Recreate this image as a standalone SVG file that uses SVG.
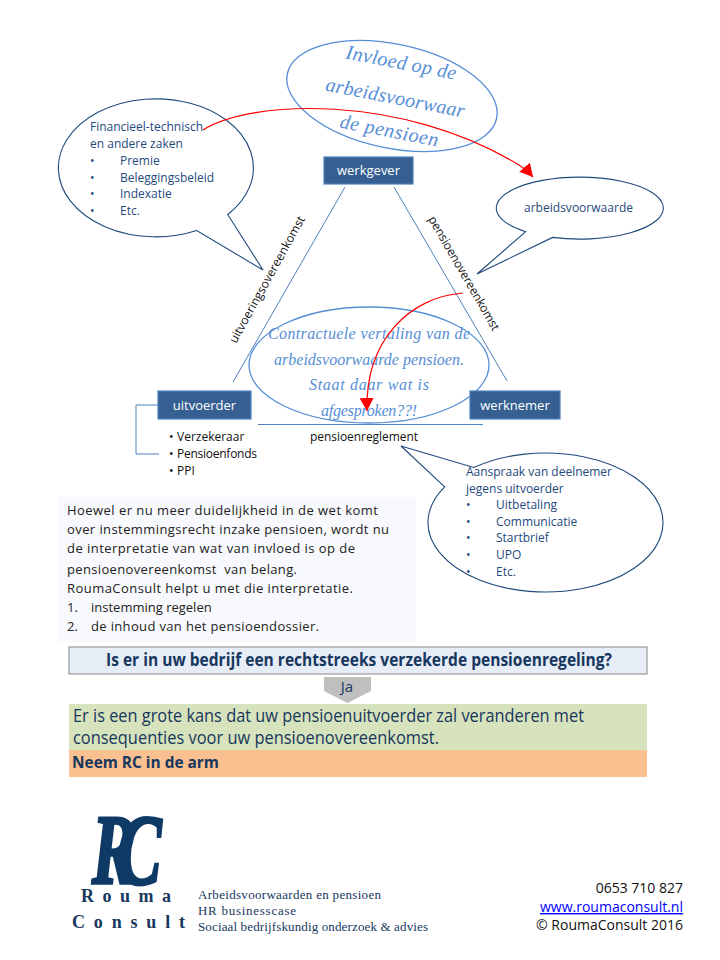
<svg xmlns="http://www.w3.org/2000/svg" width="720" height="960" viewBox="0 0 720 960">
<defs>
<marker id="redhead" markerUnits="userSpaceOnUse" markerWidth="15" markerHeight="15" refX="13" refY="7" orient="auto"><path d="M0 0L13 7L0 14Z" fill="#ff0000"/></marker>
</defs>
<style>
.sans{font-family:"Open Sans","Noto Sans","Liberation Sans",sans-serif}
.call{font-size:12px;fill:#1f497d}
.bubble{fill:#fff;stroke:#1f497d;stroke-width:1.1}
.oval{fill:none;stroke:#558ed5;stroke-width:1.3}
.hand{font-family:"Liberation Serif",serif;font-style:italic;fill:#558ed5;text-anchor:middle}
.box{fill:#366092;stroke:#4f81bd;stroke-width:1.2}
.boxt{font-size:13px;fill:#fff;text-anchor:middle}
.ln{fill:none;stroke:#4f81bd;stroke-width:1}
.red{fill:none;stroke:#ff0000;stroke-width:1.2}
.blk{font-size:12px;fill:#111}
.body{font-size:13px;fill:#222}
.foot{font-family:"Liberation Serif",serif;font-size:13px;fill:#17375e}
.con{font-size:14px;fill:#111;text-anchor:end}
</style>
<rect width="720" height="960" fill="#fff"/>

<g id="connectors">
<path class="ln" d="M345 187L233 382"/>
<path class="ln" d="M394 187L507 381"/>
<path class="ln" d="M258 424.5H483" stroke-width="1.3"/>
<path class="ln" d="M158 405H136V454H159"/>
</g>

<g id="callout-financieel">
<path class="bubble" d="M227.700 214.500A97.500 69 0 1 0 196.700 230.500L263 270Z"/>
<g class="sans call">
<text x="90" y="131" textLength="113">Financieel-technisch</text>
<text x="90" y="148">en andere zaken</text>
<text x="90" y="165">•</text><text x="120" y="165">Premie</text>
<text x="90" y="182">•</text><text x="120" y="182">Beleggingsbeleid</text>
<text x="90" y="198">•</text><text x="120" y="198">Indexatie</text>
<text x="90" y="215">•</text><text x="120" y="215">Etc.</text>
</g>
</g>

<g id="callout-arbeidsvoorwaarde">
<path class="bubble" d="M525.700 231.700L477 274L552.600 237.400A83.500 31 0 1 0 525.700 231.700Z"/>
<text class="sans call" x="524" y="212" textLength="109">arbeidsvoorwaarde</text>
</g>

<g id="callout-aanspraak">
<path class="bubble" d="M444.700 486.800L401 446L473.700 467.500A117.500 69.500 0 1 1 444.700 486.800Z"/>
<g class="sans call">
<text x="466" y="476" textLength="146">Aanspraak van deelnemer</text>
<text x="466" y="493">jegens uitvoerder</text>
<text x="466" y="509">•</text><text x="496" y="509">Uitbetaling</text>
<text x="466" y="526">•</text><text x="496" y="526">Communicatie</text>
<text x="466" y="542">•</text><text x="496" y="542">Startbrief</text>
<text x="466" y="559">•</text><text x="496" y="559">UPO</text>
<text x="466" y="576">•</text><text x="496" y="576">Etc.</text>
</g>
</g>

<g id="oval-invloed">
<ellipse class="oval" cx="392" cy="96" rx="107" ry="52" transform="rotate(12 392 96)"/>
<g class="hand" font-size="20">
<text transform="translate(400 69) rotate(11)" textLength="112">Invloed op de</text>
<text transform="translate(394 104) rotate(11)" textLength="141">arbeidsvoorwaar</text>
<text transform="translate(388 137) rotate(11)" textLength="100">de pensioen</text>
</g>
</g>

<g id="oval-vertaling">
<ellipse class="oval" cx="369" cy="365" rx="120" ry="58"/>
<g class="hand" font-size="16">
<text x="369" y="339" textLength="202">Contractuele vertaling van de</text>
<text x="369" y="365" textLength="190">arbeidsvoorwaarde pensioen.</text>
<text x="369" y="390" textLength="120">Staat daar wat is</text>
<text x="369" y="416" textLength="96">afgesproken??!</text>
</g>
</g>

<g id="node-werkgever">
<rect class="box" x="324" y="157" width="89" height="27"/>
<text class="sans boxt" x="368.500" y="175">werkgever</text>
</g>
<g id="node-uitvoerder">
<rect class="box" x="158" y="391" width="93" height="28"/>
<text class="sans boxt" x="204.500" y="410">uitvoerder</text>
</g>
<g id="node-werknemer">
<rect class="box" x="470" y="391" width="90" height="28"/>
<text class="sans boxt" x="515" y="410">werknemer</text>
</g>

<g id="labels">
<text class="sans blk" transform="translate(236 344) rotate(-61)" textLength="143">uitvoeringsovereenkomst</text>
<text class="sans blk" transform="translate(428 219) rotate(60)" textLength="130">pensioenovereenkomst</text>
<text class="sans blk" x="310" y="441" textLength="108">pensioenreglement</text>
<text class="sans blk" x="169" y="441">•</text><text class="sans blk" x="177" y="441">Verzekeraar</text>
<text class="sans blk" x="169" y="458">•</text><text class="sans blk" x="177" y="458" textLength="80">Pensioenfonds</text>
<text class="sans blk" x="169" y="475">•</text><text class="sans blk" x="177" y="475">PPI</text>
</g>

<g id="red-arcs">
<path class="red" marker-end="url(#redhead)" d="M203 130C250 100 400 93 519 165Q527 170 533 177"/>
<path class="red" marker-end="url(#redhead)" d="M463 293C410 297 365 340 367 411"/>
</g>

<g id="text-panel">
<rect x="58" y="497" width="358" height="145" fill="#f8f9fc"/>
<g class="sans body">
<text x="67" y="515" textLength="311">Hoewel er nu meer duidelijkheid in de wet komt</text>
<text x="67" y="534" textLength="322">over instemmingsrecht inzake pensioen, wordt nu</text>
<text x="67" y="553" textLength="288">de interpretatie van wat van invloed is op de</text>
<text x="67" y="574" textLength="230" xml:space="preserve">pensioenovereenkomst  van belang.</text>
<text x="67" y="593" textLength="286">RoumaConsult helpt u met die interpretatie.</text>
<text x="67" y="612">1.</text><text x="91" y="612">instemming regelen</text>
<text x="67" y="631">2.</text><text x="91" y="631" textLength="228">de inhoud van het pensioendossier.</text>
</g>
</g>

<g id="question">
<rect x="69" y="647" width="578" height="27" fill="#e6edf6" stroke="#888" stroke-width="1"/>
<text class="sans" x="106" y="666" font-size="17" font-weight="700" fill="#17375e" textLength="506" lengthAdjust="spacingAndGlyphs">Is er in uw bedrijf een rechtstreeks verzekerde pensioenregeling?</text>
</g>
<g id="arrow-ja">
<path d="M324 677H371V691L347.500 703L324 691Z" fill="#bfbfbf"/>
<text class="sans" x="347" y="692" font-size="15" fill="#17375e" text-anchor="middle">Ja</text>
</g>
<g id="answer">
<rect x="69" y="704" width="578" height="46" fill="#d7e3bc"/>
<text class="sans" x="73" y="722" font-size="17.500" fill="#17375e" textLength="511" lengthAdjust="spacingAndGlyphs">Er is een grote kans dat uw pensioenuitvoerder zal veranderen met</text>
<text class="sans" x="73" y="744" font-size="17.500" fill="#17375e" textLength="366" lengthAdjust="spacingAndGlyphs">consequenties voor uw pensioenovereenkomst.</text>
</g>
<g id="advice">
<rect x="69" y="750" width="578" height="27" fill="#fac08f"/>
<text class="sans" x="72" y="768" font-size="16.500" font-weight="700" fill="#17375e" textLength="147" lengthAdjust="spacingAndGlyphs">Neem RC in de arm</text>
</g>

<g id="logo">
<text transform="translate(92 883) scale(.66 1)" font-family="Liberation Serif,serif" font-style="italic" font-weight="700" font-size="100" letter-spacing="-28" fill="#0f3a66" stroke="#0f3a66" stroke-width="3">RC</text>
<text x="81" y="902" font-family="Liberation Serif,serif" font-weight="700" font-size="18" fill="#17375e" textLength="90">Rouma</text>
<text x="72" y="928" font-family="Liberation Serif,serif" font-weight="700" font-size="18" fill="#17375e" textLength="113">Consult</text>
</g>
<g id="tagline" class="foot">
<text x="198" y="899" textLength="183">Arbeidsvoorwaarden en pensioen</text>
<text x="198" y="915" textLength="98">HR businesscase</text>
<text x="198" y="931" textLength="230">Sociaal bedrijfskundig onderzoek &amp; advies</text>
</g>
<g id="contact" class="sans con">
<text x="683" y="893">0653 710 827</text>
<text x="683" y="912" style="fill:#0000ff;text-decoration:underline">www.roumaconsult.nl</text>
<text x="683" y="930">© RoumaConsult 2016</text>
</g>
</svg>
